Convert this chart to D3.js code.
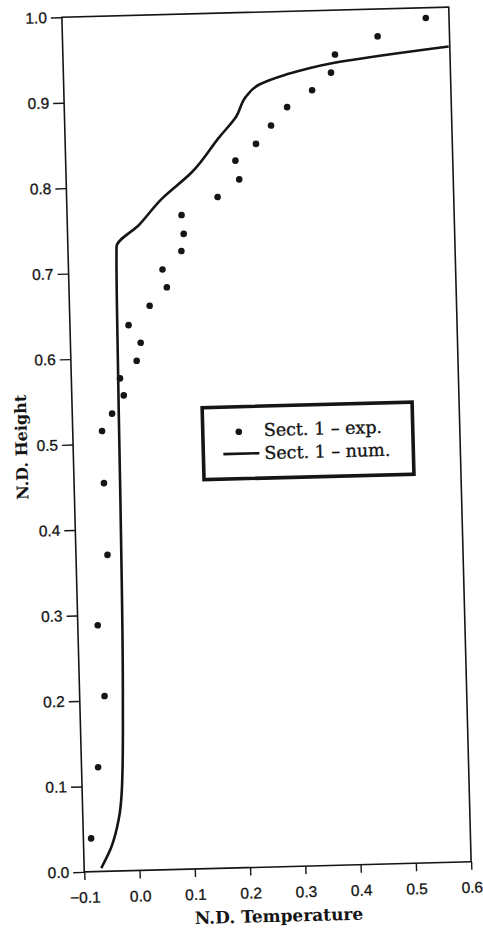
<!DOCTYPE html>
<html>
<head>
<meta charset="utf-8">
<script src="https://cdn.jsdelivr.net/npm/d3@7"></script>
<style>
  html, body { margin: 0; padding: 0; background: #fff; }
  svg { display: block; }
</style>
</head>
<body>
<svg id="chart" width="483" height="928"></svg>
<script>
// Experimental profile, section 1 (N.D. temperature vs N.D. height)
const expTemp = [0.558, 0.470, 0.392, 0.384, 0.349, 0.303, 0.273, 0.245, 0.207, 0.213,
                 0.173, 0.107, 0.110, 0.105, 0.070, 0.077, 0.045, 0.006, 0.027, 0.019,
                 -0.012, -0.006, -0.028, -0.047, -0.046, -0.043, -0.064, -0.055, -0.070, -0.086];
const expHeight = [0.988, 0.968, 0.948, 0.927, 0.907, 0.888, 0.867, 0.846, 0.827, 0.805,
                   0.785, 0.765, 0.743, 0.723, 0.702, 0.681, 0.660, 0.638, 0.617, 0.596,
                   0.576, 0.556, 0.535, 0.515, 0.454, 0.370, 0.288, 0.205, 0.122, 0.039];

// Numerical profile, section 1
const numTemp = [-0.069, -0.050, -0.035, -0.028, -0.022, -0.017, -0.014, -0.012, 0.030, 0.071,
                 0.128, 0.179, 0.210, 0.231, 0.253, 0.302, 0.386, 0.598];
const numHeight = [0.004, 0.028, 0.061, 0.096, 0.201, 0.435, 0.668, 0.730, 0.755, 0.784,
                   0.815, 0.855, 0.878, 0.903, 0.915, 0.926, 0.938, 0.954];

const xTicks = [-0.1, 0.0, 0.1, 0.2, 0.3, 0.4, 0.5, 0.6];
const yTicks = [0.0, 0.1, 0.2, 0.3, 0.4, 0.5, 0.6, 0.7, 0.8, 0.9, 1.0];
const legendLabels = ["Sect. 1 \u2013 exp.", "Sect. 1 \u2013 num."];

const ink = "#151515";
const plot = { left: 73, right: 460, top: 12, bottom: 867 };
const cx = (plot.left + plot.right) / 2, cy = (plot.top + plot.bottom) / 2;

const svg = d3.select("#chart");
// the whole figure sits slightly tilted on the page
const g = svg.append("g").attr("transform", `rotate(-1.5, ${cx}, ${cy})`);

const x = d3.scaleLinear().domain([-0.1, 0.6]).range([plot.left, plot.right]);
const y = d3.scaleLinear().domain([0, 1]).range([plot.bottom, plot.top]);

// frame
g.append("rect")
  .attr("x", plot.left).attr("y", plot.top)
  .attr("width", plot.right - plot.left).attr("height", plot.bottom - plot.top)
  .attr("fill", "none").attr("stroke", ink).attr("stroke-width", 1.6);

const fmt = d3.format(".1f");

const xAxis = g.append("g")
  .attr("transform", `translate(0,${plot.bottom})`)
  .call(d3.axisBottom(x).tickValues(xTicks).tickFormat(fmt).tickSize(8).tickPadding(12));
const yAxis = g.append("g")
  .attr("transform", `translate(${plot.left},0)`)
  .call(d3.axisLeft(y).tickValues(yTicks).tickFormat(fmt).tickSize(11).tickPadding(4));

[xAxis, yAxis].forEach(a => {
  a.select(".domain").remove();
  a.selectAll(".tick line").attr("stroke", ink).attr("stroke-width", 1.4);
  a.selectAll(".tick text")
    .attr("fill", ink)
    .attr("stroke", ink).attr("stroke-width", 0.3)
    .style("font-family", "'Liberation Sans', Arial, sans-serif")
    .style("font-size", "15.5px");
});

// numerical curve (height rises monotonically along it)
const line = d3.line()
  .x((d, i) => x(numTemp[i]))
  .y((d, i) => y(numHeight[i]))
  .curve(d3.curveMonotoneY);
g.append("path")
  .datum(numTemp)
  .attr("d", line)
  .attr("fill", "none")
  .attr("stroke", ink)
  .attr("stroke-width", 2.6)
  .attr("stroke-linejoin", "round");

// experimental points
g.append("g").selectAll("circle")
  .data(expTemp)
  .join("circle")
  .attr("cx", (d, i) => x(expTemp[i]))
  .attr("cy", (d, i) => y(expHeight[i]))
  .attr("r", 3.3)
  .attr("fill", ink);

// axis titles
const serif = "'DejaVu Serif', 'Liberation Serif', serif";
g.append("text")
  .attr("x", cx).attr("y", 922)
  .attr("text-anchor", "middle")
  .style("font-family", serif).style("font-size", "17px").style("font-weight", "bold")
  .attr("fill", ink)
  .text("N.D. Temperature");
g.append("text")
  .attr("transform", `translate(27, 441) rotate(-90)`)
  .attr("text-anchor", "middle")
  .style("font-family", serif).style("font-size", "16px").style("font-weight", "bold")
  .attr("fill", ink)
  .text("N.D. Height");

// legend
const lg = g.append("g").attr("transform", "translate(203, 406)");
lg.append("rect")
  .attr("width", 210).attr("height", 72)
  .attr("fill", "#fff").attr("stroke", ink).attr("stroke-width", 3.6);
lg.append("circle").attr("cx", 36).attr("cy", 25).attr("r", 3.3).attr("fill", ink);
lg.append("line")
  .attr("x1", 20).attr("x2", 56).attr("y1", 47).attr("y2", 47)
  .attr("stroke", ink).attr("stroke-width", 2.6);
lg.selectAll("text.lbl")
  .data(legendLabels)
  .join("text")
  .attr("class", "lbl")
  .attr("x", 61)
  .attr("y", (d, i) => 30 + i * 23)
  .attr("stroke", ink).attr("stroke-width", 0.35)
  .style("font-family", serif).style("font-size", "17.5px")
  .attr("fill", ink)
  .text(d => d);
</script>
</body>
</html>
